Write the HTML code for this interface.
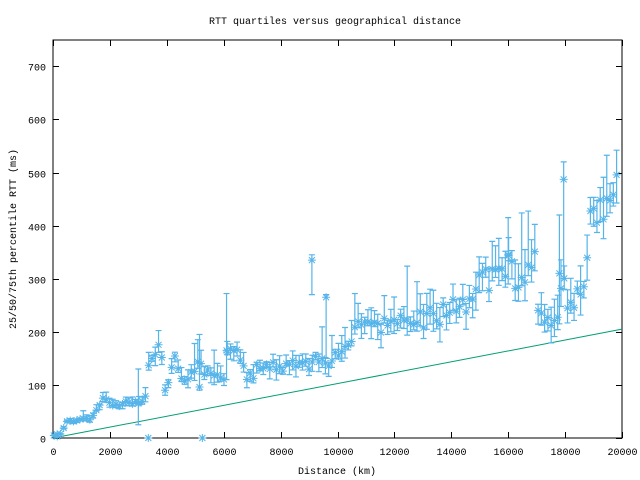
<!DOCTYPE html>
<html><head><meta charset="utf-8"><style>
body{margin:0;background:#fff}
svg{display:block;font-family:"Liberation Mono","DejaVu Sans Mono",monospace;font-size:10px}
</style></head><body>
<svg id="s" width="640" height="480" xmlns="http://www.w3.org/2000/svg">
<rect width="640" height="480" fill="#fff"/>
<text x="335" y="24" text-anchor="middle">RTT quartiles versus geographical distance</text>
<text x="337" y="474" text-anchor="middle">Distance (km)</text>
<text transform="translate(16,239) rotate(-90)" text-anchor="middle">25/50/75th percentile RTT (ms)</text>
<g id="ax"></g>
<g id="d"></g>
</svg>
<script>
const X0=53,X1=622,Y0=438,YT=40;
const sx=v=>X0+(X1-X0)*v/20000, sy=v=>Y0-v*0.531;
const ns="http://www.w3.org/2000/svg";
function el(p,t,a){const e=document.createElementNS(ns,t);for(const k in a)e.setAttribute(k,a[k]);p.appendChild(e);return e;}
const ax=document.getElementById('ax'), d=document.getElementById('d');
el(ax,'rect',{x:X0,y:YT,width:X1-X0,height:Y0-YT,fill:'none',stroke:'#000','stroke-width':1});
for(let v=0;v<=700;v+=100){const y=Math.round(sy(v))+.5;
 el(ax,'line',{x1:X0,x2:X0+6,y1:y,y2:y,stroke:'#000'});el(ax,'line',{x1:X1,x2:X1-6,y1:y,y2:y,stroke:'#000'});
 el(ax,'text',{x:X0-7,y:y+4,'text-anchor':'end'}).textContent=v;}
for(let v=0;v<=20000;v+=2000){const x=Math.round(sx(v))+.5;
 el(ax,'line',{x1:x,x2:x,y1:Y0,y2:Y0-6,stroke:'#000'});el(ax,'line',{x1:x,x2:x,y1:YT,y2:YT+6,stroke:'#000'});
 el(ax,'text',{x:x,y:Y0+17,'text-anchor':'middle'}).textContent=v;}
el(d,'polyline',{points:`${sx(0)},${sy(0)} ${sx(20000)},${sy(205)}`,fill:'none',stroke:'#009e73','stroke-width':1});
const K=[[0,5],[300,8],[450,32],[1000,33],[1400,38],[1700,70],[2500,63],[3200,65],[3450,165],[3800,160],[3950,85],[4300,150],[4600,100],[5000,140],[5500,120],[6000,115],[6150,160],[6600,155],[6750,110],[7200,130],[9000,140],[10000,150],[10500,200],[12000,212],[13500,230],[14500,250],[15000,290],[16000,320],[16500,280],[16950,330],[17100,215],[17700,225],[17900,300],[18200,245],[18700,275],[18850,410],[19500,445],[20000,465]];
function base(x){for(let i=1;i<K.length;i++)if(x<=K[i][0]){const a=K[i-1],b=K[i];return a[1]+(b[1]-a[1])*(x-a[0])/(b[0]-a[0]);}return 465;}
let seed=11;const r=()=>{seed=(seed*16807)%2147483647;return seed/2147483647;};
const C='#56b4e9';
function star(x,y){const s=4;
 el(d,'path',{d:`M${x-s},${y}H${x+s}M${x},${y-s}V${y+s}M${x-s+1},${y-s+1}L${x+s-1},${y+s-1}M${x-s+1},${y+s-1}L${x+s-1},${y-s+1}`,stroke:C,'stroke-width':1,fill:'none'});}
function pt(x,m,lo,hi){const X=sx(x),Y=sy(m),L=sy(lo),H=sy(hi);
 el(d,'path',{d:`M${X},${L}V${H}M${X-3},${L}H${X+3}M${X-3},${H}H${X+3}`,stroke:C,'stroke-width':1.2,fill:'none'});star(X,Y);}
for(let x=30;x<=19900;x+=115){const b=base(x);const m=b*(1+(r()-0.5)*0.18);
 const lo=m-b*(0.03+r()*0.12), hi=m+b*(0.03+r()*(r()<0.08?0.45:0.18));pt(x,m,Math.max(0,lo),hi);}
pt(9100,335,270,345);pt(9600,265,150,270);pt(17950,487,300,520);pt(17800,310,215,420);pt(16000,345,290,415);pt(6100,165,110,272);
pt(5150,96,90,195);pt(3000,65,25,130);
star(sx(3350),sy(0));star(sx(5250),sy(0));star(sx(150),sy(3));
</script>
</body></html>
